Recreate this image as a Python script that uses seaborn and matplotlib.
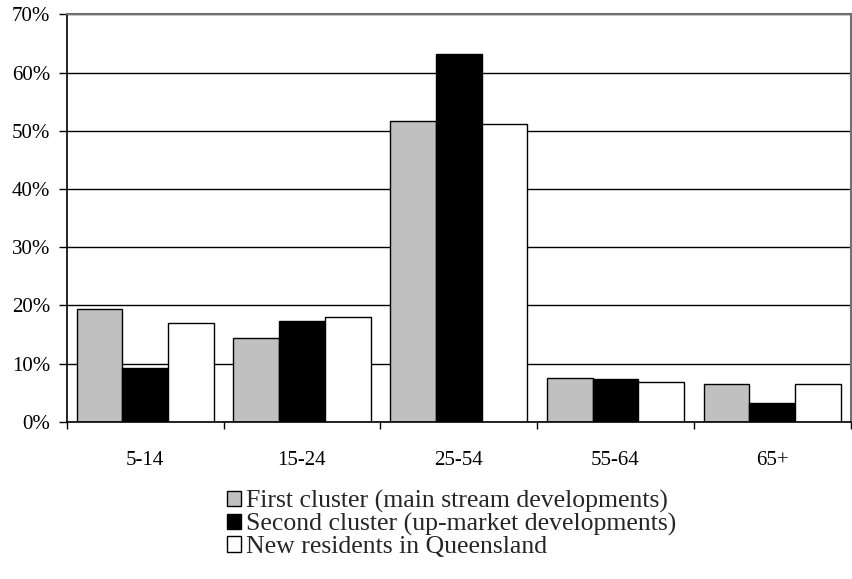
import matplotlib
matplotlib.use("Agg")
import matplotlib.pyplot as plt
from matplotlib.patches import Patch
from matplotlib.ticker import FuncFormatter, FixedLocator
import seaborn as sns
import pandas as pd

# Age groups and share of residents in each group
age_groups = ["5-14", "15-24", "25-54", "55-64", "65+"]
first_cluster = [0.194, 0.145, 0.517, 0.076, 0.065]
second_cluster = [0.092, 0.173, 0.631, 0.074, 0.033]
new_residents = [0.170, 0.180, 0.512, 0.068, 0.065]

series_names = [
    "First cluster (main stream developments)",
    "Second cluster (up-market developments)",
    "New residents in Queensland",
]
series_colors = ["#c0c0c0", "#000000", "#ffffff"]
y_ticks = [0.0, 0.1, 0.2, 0.3, 0.4, 0.5, 0.6, 0.7]

rows = []
for name, values in zip(series_names, [first_cluster, second_cluster, new_residents]):
    for grp, v in zip(age_groups, values):
        rows.append({"age": grp, "share": v, "series": name})
df = pd.DataFrame(rows)

sns.set_theme(style="white")
plt.rcParams["font.family"] = ["Liberation Serif", "DejaVu Serif"]

fig = plt.figure(figsize=(8.53, 5.79), dpi=100)
ax = fig.add_axes([0.0782, 0.2712, 0.9973 - 0.0782, 0.9753 - 0.2712])

sns.barplot(
    data=df, x="age", y="share", hue="series",
    order=age_groups, hue_order=series_names,
    palette=series_colors, width=0.875,
    edgecolor="black", linewidth=1.0,
    saturation=1, legend=False, ax=ax, errorbar=None,
)

ax.set_xlim(-0.5, len(age_groups) - 0.5)
ax.set_ylim(0, 0.7)
ax.set_yticks(y_ticks)
ax.yaxis.set_major_formatter(FuncFormatter(lambda v, _: f"{v * 100:.0f}%"))
ax.yaxis.grid(True, color="black", linewidth=1.0)
ax.set_axisbelow(True)

# category boundaries carry the ticks; labels sit at category centres
ax.xaxis.set_major_locator(FixedLocator([i - 0.5 for i in range(len(age_groups) + 1)]))
ax.xaxis.set_minor_locator(FixedLocator(list(range(len(age_groups)))))
ax.set_xticklabels([], minor=False)
ax.set_xticklabels(age_groups, minor=True)
ax.tick_params(axis="x", which="major", direction="out", length=5, width=1, color="black", bottom=True)
ax.tick_params(axis="x", which="minor", length=0, pad=21, labelsize=15, colors="black")
ax.tick_params(axis="y", direction="out", length=6, width=1, color="black", left=True, pad=6,
               labelsize=15, labelcolor="black")

ax.set_xlabel("")
ax.set_ylabel("")

for side in ["left", "bottom"]:
    ax.spines[side].set_color("black")
    ax.spines[side].set_linewidth(1.2)
for side in ["top", "right"]:
    ax.spines[side].set_color("#707070")
    ax.spines[side].set_linewidth(1.5)

handles = [Patch(facecolor=c, edgecolor="black", linewidth=1.0) for c in series_colors]
fig.legend(
    handles, series_names,
    loc="upper left", bbox_to_anchor=(227 / 853, 1 - 490 / 579),
    frameon=False, fontsize=18.5,
    handlelength=0.55, handleheight=0.55, handletextpad=0.2,
    labelspacing=0.0, borderpad=0, borderaxespad=0,
)

fig.savefig("out.png", dpi=100, facecolor="white")
